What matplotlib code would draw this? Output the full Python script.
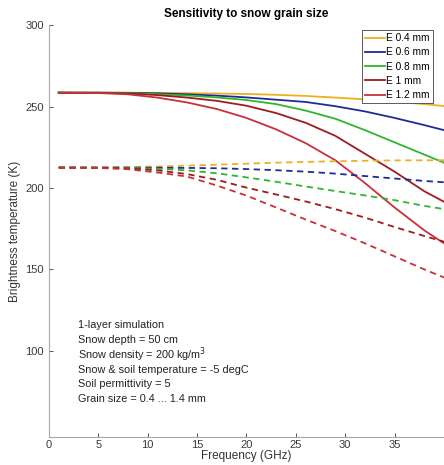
import numpy as np
import matplotlib
matplotlib.use('Agg')
import matplotlib.pyplot as plt

plt.rcParams['font.family'] = ['Liberation Sans', 'DejaVu Sans']

# frequenze (GHz)
freq = [1, 5, 8, 11, 14, 17, 20, 23, 26, 29, 32, 35, 38, 40]

# curve continue (linea piena)
tb_04 = [258.5, 258.5, 258.5, 258.4, 258.2, 258.0, 257.7, 257.2, 256.5, 255.5, 254.4, 253.0, 251.5, 250.3]
tb_06 = [258.5, 258.5, 258.4, 258.1, 257.5, 256.7, 255.6, 254.2, 252.8, 250.2, 247.0, 243.0, 238.6, 235.5]
tb_08 = [258.5, 258.5, 258.2, 257.6, 256.8, 255.6, 254.0, 251.5, 247.5, 242.5, 235.5, 228.0, 220.5, 215.5]
tb_10 = [258.5, 258.4, 258.0, 257.0, 255.5, 253.5, 250.5, 246.0, 240.0, 232.0, 221.0, 210.0, 198.0, 191.5]
tb_12 = [258.5, 258.3, 257.5, 255.5, 252.5, 248.5, 243.0, 236.0, 227.5, 217.0, 203.0, 188.0, 174.0, 166.0]

# curve tratteggiate
tbd_04 = [212.5, 212.6, 212.8, 213.2, 213.7, 214.3, 214.9, 215.5, 216.0, 216.4, 216.7, 216.9, 217.0, 217.0]
tbd_06 = [212.5, 212.5, 212.5, 212.4, 212.3, 212.1, 211.6, 210.9, 210.0, 208.8, 207.3, 205.8, 204.3, 203.5]
tbd_08 = [212.5, 212.5, 212.3, 211.8, 210.8, 209.0, 206.5, 203.8, 200.9, 198.1, 195.4, 192.5, 189.0, 187.0]
tbd_10 = [212.5, 212.4, 212.0, 210.8, 208.5, 205.0, 200.2, 196.0, 191.7, 187.0, 181.8, 176.0, 170.5, 167.0]
tbd_12 = [212.5, 212.3, 211.5, 209.5, 207.0, 201.5, 195.3, 188.0, 180.6, 173.5, 166.0, 158.0, 150.0, 145.0]

labels = ['E 0.4 mm', 'E 0.6 mm', 'E 0.8 mm', 'E 1 mm', 'E 1.2 mm']
colori = ['#EDB120', '#1F2C96', '#2EB62E', '#9E1C20', '#C8303A']

info = ['1-layer simulation',
        'Snow depth = 50 cm',
        'Snow density = 200 kg/m$^3$',
        'Snow & soil temperature = -5 degC',
        'Soil permittivity = 5',
        'Grain size = 0.4 ... 1.4 mm']

fig = plt.figure(figsize=(4.44, 4.65), dpi=100)
ax = fig.add_axes([0.110, 0.060, 0.890, 0.886])

solide = [tb_04, tb_06, tb_08, tb_10, tb_12]
tratteggiate = [tbd_04, tbd_06, tbd_08, tbd_10, tbd_12]

for s, c, l in zip(solide, colori, labels):
    ax.plot(freq, s, color=c, lw=1.3, label=l)
for d, c in zip(tratteggiate, colori):
    ax.plot(freq, d, color=c, lw=1.3, ls=(0, (3.5, 2.5)))

ax.set_xlim(0, 40)
ax.set_ylim(47, 300)
ax.set_xticks(np.arange(0, 40, 5))
ax.set_yticks([100, 150, 200, 250, 300])

grigio = '#a6a6a6'
for lato in ['top', 'right']:
    ax.spines[lato].set_visible(False)
for lato in ['left', 'bottom']:
    ax.spines[lato].set_color(grigio)
    ax.spines[lato].set_linewidth(0.8)
ax.tick_params(direction='in', length=3, width=0.7, color='#555555',
               labelsize=8, labelcolor='#3a3a3a')
ax.tick_params(axis='x', pad=2)

ax.set_xlabel('Frequency (GHz)', fontsize=8.5, color='#333333', labelpad=0)
ax.set_ylabel('Brightness temperature (K)', fontsize=8.5, color='#333333', labelpad=3)
ax.set_title('Sensitivity to snow grain size', fontsize=8.5, fontweight='bold', pad=6)

leg = ax.legend(loc='upper right', fontsize=7.3, handlelength=2.0, handletextpad=0.1,
                borderpad=0.3, labelspacing=0.42, fancybox=False, framealpha=1,
                bbox_to_anchor=(0.985, 1.0))
leg.get_frame().set_edgecolor('#404040')
leg.get_frame().set_linewidth(0.6)

for i, riga in enumerate(info):
    ax.text(0.073, 0.272 - i * 0.036, riga, transform=ax.transAxes,
            fontsize=7.8, color='#222222', va='center')

fig.savefig('out.png', dpi=100)
